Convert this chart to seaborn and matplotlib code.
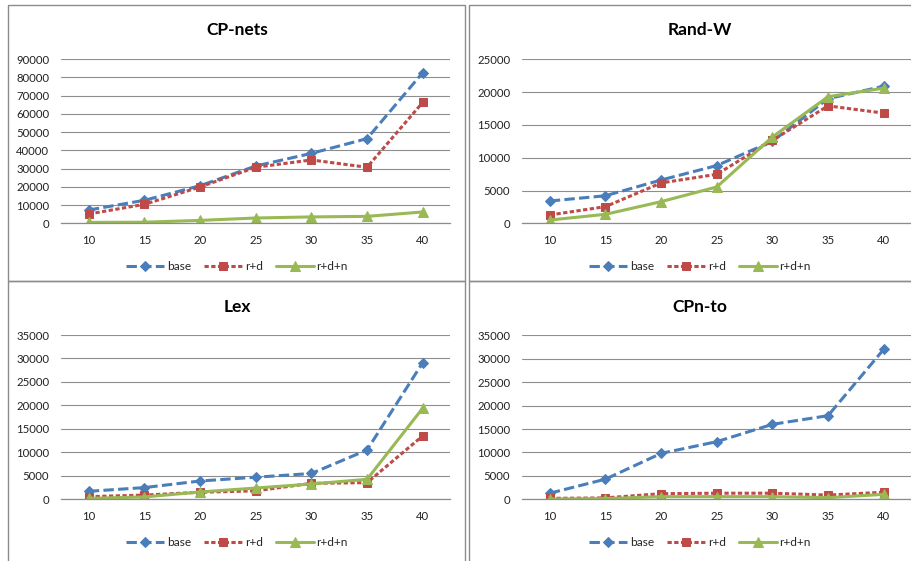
import numpy as np
import pandas as pd
import matplotlib
matplotlib.use('Agg')
import matplotlib.pyplot as plt
import seaborn as sns
from matplotlib.patches import Rectangle

sns.set_style('white')
plt.rcParams['font.family'] = ['Lato', 'DejaVu Sans']

# data
sizes = [10, 15, 20, 25, 30, 35, 40]
series_names = ['base', 'r+d', 'r+d+n']

cpnets_base = [7300, 12600, 20600, 31400, 38300, 46400, 82500]
cpnets_rd = [5100, 10400, 19900, 30700, 34700, 30700, 66200]
cpnets_rdn = [500, 600, 1600, 2900, 3500, 3800, 6200]

randw_base = [3400, 4200, 6600, 8800, 12500, 19000, 20900]
randw_rd = [1270, 2540, 6150, 7470, 12650, 17900, 16800]
randw_rdn = [500, 1370, 3300, 5540, 13160, 19300, 20600]

lex_base = [1700, 2500, 3900, 4700, 5500, 10500, 29100]
lex_rd = [570, 900, 1500, 1800, 3400, 3550, 13500]
lex_rdn = [200, 500, 1560, 2400, 3260, 4260, 19400]

cpnto_base = [1300, 4300, 9800, 12300, 16000, 17850, 32000]
cpnto_rd = [200, 300, 1200, 1300, 1300, 900, 1500]
cpnto_rdn = [50, 150, 570, 570, 570, 350, 1050]

panels = [
    ('CP-nets', [cpnets_base, cpnets_rd, cpnets_rdn], 90000, 10000),
    ('Rand-W', [randw_base, randw_rd, randw_rdn], 25000, 5000),
    ('Lex', [lex_base, lex_rd, lex_rdn], 35000, 5000),
    ('CPn-to', [cpnto_base, cpnto_rd, cpnto_rdn], 35000, 5000),
]

colors = ['#4A7EBB', '#BE4B48', '#98B954']
markers = ['D', 's', '^']
msizes = [5.3, 5.6, 6.5]
lstyles = [(0, (3.4, 1.4)), (0, (1.4, 0.8)), '-']

W, H = 912, 561
fig = plt.figure(figsize=(W / 100, H / 100), dpi=100)

# pixel layout: box (x0, x1, y0, y1), plot area (x0, x1, y0, y1), title y, legend y, centre x
layout = [
    ((8, 465, 5, 281), (61, 450.5, 59, 223.3), 30, 267, 237),
    ((469, 935, 5, 281), (522, 911.5, 59.3, 223.3), 30, 267, 700),
    ((8, 465, 281, 570), (61, 450.5, 335, 499.3), 307, 543, 237),
    ((469, 935, 281, 570), (522, 911.5, 335.3, 499.3), 307, 543, 700),
]

for (title, vals, ymax, ystep), (box, area, ty, ly, cx) in zip(panels, layout):
    bx0, bx1, by0, by1 = box
    fig.patches.append(Rectangle((bx0 / W, 1 - by1 / H), (bx1 - bx0) / W, (by1 - by0) / H,
                                 transform=fig.transFigure, fill=False,
                                 edgecolor='#8c8c8c', linewidth=1.0))
    x0, x1, y0, y1 = area
    ax = fig.add_axes([x0 / W, 1 - y1 / H, (x1 - x0) / W, (y1 - y0) / H])
    ax.set_facecolor('none')

    df = pd.DataFrame({'n': sizes * 3,
                       'time': vals[0] + vals[1] + vals[2],
                       'variant': np.repeat(series_names, len(sizes))})
    for i, name in enumerate(series_names):
        sub = df[df['variant'] == name]
        sns.lineplot(data=sub, x='n', y='time', ax=ax, color=colors[i],
                     marker=markers[i], markersize=msizes[i], markeredgecolor=colors[i],
                     linewidth=2.2, linestyle=lstyles[i], label=name, legend=False)

    ax.set_xlim(7.5, 42.5)
    ax.set_ylim(0, ymax)
    ax.set_yticks(np.arange(0, ymax + 1, ystep))
    ax.set_xticks(sizes)
    ax.set_xticks(np.arange(7.5, 43, 5), minor=True)
    ax.tick_params(axis='x', which='major', length=0, pad=8.5, labelsize=8.2, colors='#222222')
    ax.tick_params(axis='x', which='minor', length=4, width=0.8, color='#8c8c8c', direction='out')
    ax.tick_params(axis='y', length=0, pad=8.5, labelsize=8.2, colors='#222222')
    ax.yaxis.grid(True, color='#8e8e8e', linewidth=0.8)
    ax.set_axisbelow(True)
    for s in ['top', 'right', 'left']:
        ax.spines[s].set_visible(False)
    ax.spines['bottom'].set_color('#8c8c8c')
    ax.spines['bottom'].set_linewidth(0.9)
    ax.set_xlabel('')
    ax.set_ylabel('')

    fig.text(cx / W, 1 - ty / H, title, ha='center', va='center',
             fontsize=12.5, fontweight='bold', color='black')

    handles, labels = ax.get_legend_handles_labels()
    fig.legend(handles, labels, loc='center', bbox_to_anchor=(cx / W, 1 - ly / H),
               ncol=3, frameon=False, fontsize=8.6, handlelength=3.2,
               handletextpad=0.2, columnspacing=1.1, borderaxespad=0)

fig.savefig('out.png', dpi=100)
